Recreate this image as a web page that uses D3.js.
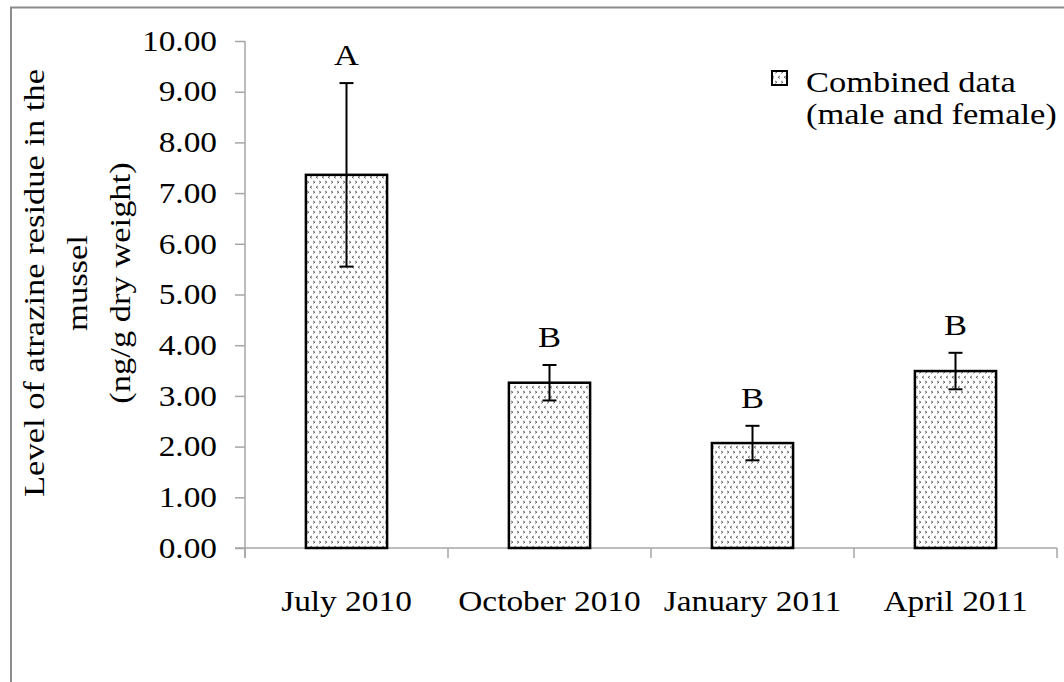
<!DOCTYPE html>
<html>
<head>
<meta charset="utf-8">
<script src="https://cdn.jsdelivr.net/npm/d3@7"></script>
<style>
  html, body { margin: 0; padding: 0; background: #fff; }
  svg { display: block; }
  text { font-family: "Liberation Serif", "Times New Roman", serif; fill: #000; }
</style>
</head>
<body>
<svg id="chart" width="1064" height="682"></svg>
<script>
// Sampling periods and mean atrazine residue (ng/g dry weight) with standard errors
const categories = ["July 2010", "October 2010", "January 2011", "April 2011"];
const means = [7.36, 3.26, 2.07, 3.49];
const errors = [1.81, 0.35, 0.34, 0.36];
const groupLetters = ["A", "B", "B", "B"];
const yTicks = [0, 1, 2, 3, 4, 5, 6, 7, 8, 9, 10];
const yLabelLines = ["Level of atrazine residue in the", "mussel", "(ng/g dry weight)"];
const legendLines = ["Combined data", "(male and female)"];

const svg = d3.select("#chart");
const W = 1064, H = 682;
const plot = { left: 245, right: 1057, top: 41, bottom: 548 };
const axisColor = "#a6a6a6";
const FONT = '"Liberation Serif", "Times New Roman", serif';
const WIDEN = 1.15;   // the serif face is set slightly wide

// Place a text at (px, py) with a horizontal widening about its anchor
function placeText(sel, px, py, rot) {
  return sel.attr("x", 0).attr("y", 0)
    .attr("transform", (d, i) => {
      const X = typeof px === "function" ? px(d, i) : px;
      const Y = typeof py === "function" ? py(d, i) : py;
      return `translate(${X},${Y})${rot ? ` rotate(${rot})` : ""} scale(${WIDEN},1)`;
    });
}

// Outer frame (only the left and top edges fall inside the page)
svg.append("path")
  .attr("d", `M11,${H} V7.5 H${W}`)
  .attr("fill", "none").attr("stroke", "#8c8c8c").attr("stroke-width", 2);

// Hatch pattern: rows of tiny chevrons
const defs = svg.append("defs");
const pat = defs.append("pattern")
  .attr("id", "chevrons").attr("patternUnits", "userSpaceOnUse")
  .attr("width", 12).attr("height", 10);
pat.append("rect").attr("width", 12).attr("height", 10).attr("fill", "#fff");
const chev = "#4a4a4a";
pat.append("path").attr("d", "M1,1 L3,2.2 L1,3.4 M7,1 L9,2.2 L7,3.4")
  .attr("fill", "none").attr("stroke", chev).attr("stroke-width", 0.8);
pat.append("path").attr("d", "M6,6 L4,7.2 L6,8.4 M12,6 L10,7.2 L12,8.4")
  .attr("fill", "none").attr("stroke", chev).attr("stroke-width", 0.8);

const x = d3.scaleBand().domain(categories)
  .range([plot.left, plot.right]).paddingInner(0.6).paddingOuter(0.3);
const y = d3.scaleLinear().domain([0, 10]).range([plot.bottom, plot.top]);

// Y axis
const yAxis = svg.append("g").attr("transform", `translate(${plot.left},0)`)
  .call(d3.axisLeft(y).tickValues(yTicks).tickSize(10).tickPadding(18)
    .tickFormat(d3.format(".2f")));
yAxis.attr("font-family", FONT);
yAxis.select(".domain").attr("stroke", axisColor).attr("stroke-width", 1.5)
  .attr("d", `M0,${plot.top} V${plot.bottom + 10}`);
yAxis.selectAll(".tick line").attr("stroke", axisColor).attr("stroke-width", 1.5);
placeText(yAxis.selectAll(".tick text"), -28, 0)
  .style("font-family", FONT).style("font-size", "29px").attr("fill", "#000");

// X axis baseline with ticks at category boundaries
const step = x.step();
const bounds = d3.range(categories.length + 1).map(i => plot.left + i * step);
svg.append("line").attr("x1", plot.left - 10).attr("x2", plot.right)
  .attr("y1", plot.bottom).attr("y2", plot.bottom)
  .attr("stroke", axisColor).attr("stroke-width", 1.5);
svg.selectAll(".xtick").data(bounds).enter().append("line")
  .attr("x1", d => d).attr("x2", d => d)
  .attr("y1", plot.bottom).attr("y2", plot.bottom + 10)
  .attr("stroke", axisColor).attr("stroke-width", 1.5);

// Category labels
placeText(svg.selectAll(".xlab").data(categories).enter().append("text"),
    d => x(d) + x.bandwidth() / 2, 611)
  .attr("text-anchor", "middle").style("font-size", "29px")
  .text(d => d);

// Bars
const data = categories.map((c, i) => ({ c, m: means[i], e: errors[i], g: groupLetters[i] }));
svg.selectAll(".bar").data(data).enter().append("rect")
  .attr("x", d => x(d.c)).attr("width", x.bandwidth())
  .attr("y", d => y(d.m)).attr("height", d => y(0) - y(d.m))
  .attr("fill", "url(#chevrons)").attr("stroke", "#000").attr("stroke-width", 2.5);

// Error bars
const cap = 7;
const cx = d => x(d.c) + x.bandwidth() / 2;
const eb = svg.selectAll(".err").data(data).enter().append("g")
  .attr("stroke", "#000").attr("stroke-width", 2);
eb.append("line")
  .attr("x1", cx).attr("x2", cx)
  .attr("y1", d => y(d.m + d.e)).attr("y2", d => y(d.m - d.e));
eb.append("line")
  .attr("x1", d => cx(d) - cap).attr("x2", d => cx(d) + cap)
  .attr("y1", d => y(d.m + d.e)).attr("y2", d => y(d.m + d.e));
eb.append("line")
  .attr("x1", d => cx(d) - cap).attr("x2", d => cx(d) + cap)
  .attr("y1", d => y(d.m - d.e)).attr("y2", d => y(d.m - d.e));

// Significance group letters
placeText(svg.selectAll(".grp").data(data).enter().append("text"),
    cx, d => y(d.m + d.e) - 18)
  .attr("text-anchor", "middle").style("font-size", "30px")
  .text(d => d.g);

// Y axis title, three rotated lines
placeText(svg.selectAll(".ytitle").data(yLabelLines).enter().append("text"),
    (d, i) => 44 + i * 43, 283, -90)
  .attr("text-anchor", "middle").style("font-size", "30px")
  .text(d => d);

// Legend
const lg = svg.append("g");
lg.append("rect").attr("x", 772).attr("y", 71).attr("width", 15).attr("height", 14)
  .attr("fill", "url(#chevrons)").attr("stroke", "#000").attr("stroke-width", 2);
placeText(lg.selectAll("text").data(legendLines).enter().append("text"),
    806, (d, i) => 92 + i * 32)
  .style("font-size", "30px").text(d => d);
</script>
</body>
</html>
